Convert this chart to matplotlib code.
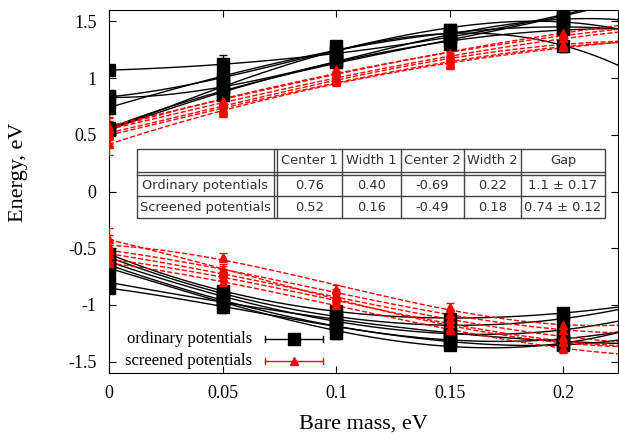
import numpy as np
import matplotlib
matplotlib.use("Agg")
import matplotlib.pyplot as plt
from matplotlib.lines import Line2D
from matplotlib.patches import Rectangle

plt.rcParams['font.family'] = ['Liberation Serif', 'DejaVu Serif']

mass = [0.0, 0.05, 0.1, 0.15, 0.2]

# ordinary potentials, upper band
ord_up = [
    [1.07, 1.12, 1.22, 1.36, 1.56],
    [0.84, 0.98, 1.28, 1.42, 1.50],
    [0.83, 0.92, 1.15, 1.38, 1.52],
    [0.74, 1.02, 1.24, 1.40, 1.45],
    [0.56, 0.88, 1.14, 1.33, 1.55],
    [0.54, 0.95, 1.20, 1.42, 1.28],
    [0.55, 0.85, 1.18, 1.30, 1.43],
]
ord_up_err = [0.04, 0.08, 0.05, 0.05, 0.05]

# screened potentials, upper band
scr_up = [
    [0.58, 0.80, 1.05, 1.22, 1.40],
    [0.55, 0.77, 1.02, 1.18, 1.35],
    [0.52, 0.74, 1.00, 1.16, 1.30],
    [0.50, 0.72, 0.98, 1.13, 1.28],
    [0.42, 0.70, 0.97, 1.12, 1.27],
    [0.56, 0.79, 1.08, 1.20, 1.38],
]
scr_up_err = [0.10, 0.04, 0.04, 0.04, 0.04]

# ordinary potentials, lower band
ord_lo = [
    [-0.55, -0.88, -1.05, -1.12, -1.07],
    [-0.58, -0.90, -1.10, -1.18, -1.12],
    [-0.62, -0.92, -1.15, -1.25, -1.22],
    [-0.65, -0.95, -1.20, -1.30, -1.30],
    [-0.80, -0.98, -1.12, -1.25, -1.32],
    [-0.85, -1.02, -1.18, -1.33, -1.35],
    [-0.68, -0.96, -1.25, -1.35, -1.34],
]
ord_lo_err = [0.04, 0.05, 0.05, 0.04, 0.04]

# screened potentials, lower band
scr_lo = [
    [-0.48, -0.58, -0.86, -1.02, -1.18],
    [-0.52, -0.68, -0.90, -1.08, -1.22],
    [-0.55, -0.72, -0.94, -1.12, -1.28],
    [-0.60, -0.75, -0.97, -1.16, -1.32],
    [-0.63, -0.80, -1.00, -1.22, -1.38],
    [-0.42, -0.70, -0.92, -1.20, -1.33],
]
scr_lo_err = [0.10, 0.04, 0.04, 0.04, 0.04]

col_names = ["", "Center 1", "Width 1", "Center 2", "Width 2", "Gap"]
row_ord = ["Ordinary potentials", "0.76", "0.40", "-0.69", "0.22", "1.1 \u00b1 0.17"]
row_scr = ["Screened potentials", "0.52", "0.16", "-0.49", "0.18", "0.74 \u00b1 0.12"]

W, H = 619, 441
fig = plt.figure(figsize=(W / 100, H / 100), dpi=100)
ax = fig.add_axes([109 / W, 1 - 373 / H, 509 / W, 363 / H])

xs = np.linspace(0, 0.226, 200)


def draw(curves, err, color, ls, marker, ms):
    for c in curves:
        p = np.polyfit(mass, c, 3)
        ax.plot(xs, np.polyval(p, xs), color=color, ls=ls, lw=1.0, zorder=2)
        ax.errorbar(mass, c, yerr=err, fmt=marker, color=color, ms=ms,
                    capsize=3, elinewidth=1, capthick=1, zorder=3)


draw(ord_up, ord_up_err, "black", "-", "s", 8)
draw(ord_lo, ord_lo_err, "black", "-", "s", 8)
draw(scr_up, scr_up_err, "red", "--", "^", 6)
draw(scr_lo, scr_lo_err, "red", "--", "^", 6)

ax.set_xlim(0, 0.224)
ax.set_ylim(-1.6, 1.6)
ax.set_xticks([0, 0.05, 0.1, 0.15, 0.2])
ax.set_xticklabels(["0", "0.05", "0.1", "0.15", "0.2"])
ax.set_yticks([-1.5, -1, -0.5, 0, 0.5, 1, 1.5])
ax.set_yticklabels(["-1.5", "-1", "-0.5", "0", "0.5", "1", "1.5"])
ax.tick_params(direction="in", top=True, right=True, length=5, labelsize=13)
ax.tick_params(axis="x", pad=9)
ax.tick_params(axis="y", pad=9)
ax.set_xlabel("Bare mass, eV", fontsize=16)
ax.set_ylabel("Energy, eV", fontsize=16, va="center")
ax.xaxis.set_label_coords(0.5, -0.115)
ax.yaxis.set_label_coords(-0.178, 0.554)


def fx(px):
    return px / W


def fy(py):
    return 1 - py / H


# legend drawn by hand, gnuplot style
for yy, col, mk, ms, label in [(339, "black", "s", 8, "ordinary potentials"),
                               (361, "red", "^", 6, "screened potentials")]:
    fig.text(fx(252), fy(yy), label, ha="right", va="center", fontsize=12)
    fig.add_artist(Line2D([fx(265), fx(323)], [fy(yy), fy(yy)], color=col, lw=1))
    for xx in (265, 323):
        fig.add_artist(Line2D([fx(xx), fx(xx)], [fy(yy - 3), fy(yy + 3)], color=col, lw=1))
    fig.add_artist(Line2D([fx(294)], [fy(yy)], color=col, marker=mk, ms=ms, ls="none"))

# table drawn by hand
xb = [137, 274, 342, 401, 464, 521, 605]
yb = [149, 172, 196, 218]
fig.add_artist(Rectangle((fx(137), fy(218)), fx(605) - fx(137), fy(149) - fy(218),
                         facecolor="white", edgecolor="#444444", lw=1, zorder=5))
for x in xb[1:-1]:
    fig.add_artist(Line2D([fx(x), fx(x)], [fy(149), fy(218)], color="#444444", lw=1, zorder=6))
fig.add_artist(Line2D([fx(277), fx(277)], [fy(149), fy(218)], color="#444444", lw=1, zorder=6))
for y in yb[1:-1]:
    fig.add_artist(Line2D([fx(137), fx(605)], [fy(y), fy(y)], color="#444444", lw=1, zorder=6))
fig.add_artist(Line2D([fx(137), fx(605)], [fy(175), fy(175)], color="#444444", lw=1, zorder=6))

centers = [(xb[0] + xb[1]) / 2] + [(xb[i] + xb[i + 1]) / 2 + (1.5 if i == 1 else 0) for i in range(1, 6)]
for row, ytop, ybot in [(col_names, 149, 172), (row_ord, 175, 196), (row_scr, 196, 218)]:
    for i, txt in enumerate(row):
        if not txt:
            continue
        fig.text(fx(centers[i]), fy((ytop + ybot) / 2), txt, ha="center", va="center",
                 fontsize=9.4, family=["DejaVu Sans"], color="#333333", zorder=7)

fig.savefig("out.png", dpi=100)
